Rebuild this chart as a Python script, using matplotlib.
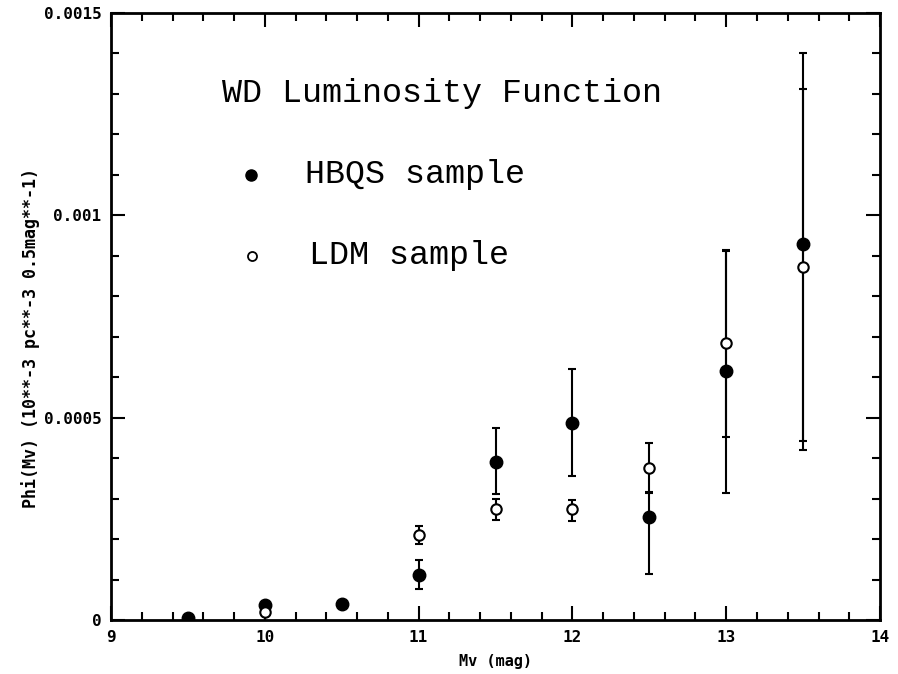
import numpy as np
import matplotlib
matplotlib.use('Agg')
import matplotlib.pyplot as plt
from matplotlib.ticker import MultipleLocator

# HBQS sample (filled circles)
hbqs_mv = [9.5, 10.0, 10.5, 11.0, 11.5, 12.0, 12.5, 13.0, 13.5]
hbqs_phi = [0.000005, 0.000037, 0.00004, 0.000111, 0.00039, 0.000487, 0.000254, 0.000615, 0.00093]
hbqs_err_lo = [0.0, 0.0, 0.0, 0.000034, 0.000079, 0.000131, 0.00014, 0.0003, 0.00051]
hbqs_err_hi = [0.0, 0.0, 0.0, 0.000037, 0.000084, 0.000133, 0.00006, 0.0003, 0.00047]

# LDM sample (open circles)
ldm_mv = [10.0, 11.0, 11.5, 12.0, 12.5, 13.0, 13.5]
ldm_phi = [0.00002, 0.00021, 0.000274, 0.000274, 0.000376, 0.000685, 0.000872]
ldm_err_lo = [0.0, 0.000022, 0.000027, 0.000029, 0.00006, 0.000233, 0.00043]
ldm_err_hi = [0.0, 0.000022, 0.000025, 0.000023, 0.000061, 0.000227, 0.00044]

y_ticks = [0, 0.0005, 0.001, 0.0015]
y_ticklabels = ['0', '0.0005', '0.001', '0.0015']

fig = plt.figure(figsize=(8.98, 6.74), dpi=100)
ax = fig.add_axes([0.1236, 0.0801, 0.8564, 0.9006])

ax.errorbar(hbqs_mv, hbqs_phi, yerr=[hbqs_err_lo, hbqs_err_hi], fmt='o', color='black',
            markersize=9, capsize=3, elinewidth=1.5, capthick=1.5)
ax.errorbar(ldm_mv, ldm_phi, yerr=[ldm_err_lo, ldm_err_hi], fmt='o', color='black',
            markerfacecolor='white', markeredgewidth=1.5, markersize=7.5,
            capsize=3, elinewidth=1.5, capthick=1.5)

ax.set_xlim(9, 14)
ax.set_ylim(0, 0.0015)
ax.xaxis.set_major_locator(MultipleLocator(1))
ax.xaxis.set_minor_locator(MultipleLocator(0.2))
ax.set_yticks(y_ticks, y_ticklabels)
ax.yaxis.set_minor_locator(MultipleLocator(0.0001))
ax.tick_params(which='both', direction='in', top=True, right=True, width=1.5)
ax.tick_params(which='major', length=10, labelsize=11.5, pad=7)
ax.tick_params(which='minor', length=6)
for lab in ax.get_xticklabels() + ax.get_yticklabels():
    lab.set_fontweight('bold')
    lab.set_family('DejaVu Sans Mono')
for sp in ax.spines.values():
    sp.set_linewidth(2)

ax.set_xlabel('Mv (mag)', fontsize=11, fontweight='bold', family='DejaVu Sans Mono')
ax.xaxis.set_label_coords(0.5, -0.056)
ax.set_ylabel('Phi(Mv) (10**-3 pc**-3 0.5mag**-1)', fontsize=12, fontweight='bold',
              family='DejaVu Sans Mono')
ax.yaxis.set_label_coords(-0.092, 0.465)

txt = dict(family='Liberation Mono', fontsize=24, va='center', ha='left')
ax.text(9.72, 0.0013, 'WD Luminosity Function', **txt)
ax.plot([9.91], [0.0011], 'o', color='black', markersize=8)
ax.text(10.26, 0.0011, 'HBQS sample', **txt)
ax.plot([9.92], [0.0009], 'o', color='black', markerfacecolor='white', markersize=6.5, markeredgewidth=1.3)
ax.text(10.29, 0.0009, 'LDM sample', **txt)

fig.savefig('out.png', dpi=100)
